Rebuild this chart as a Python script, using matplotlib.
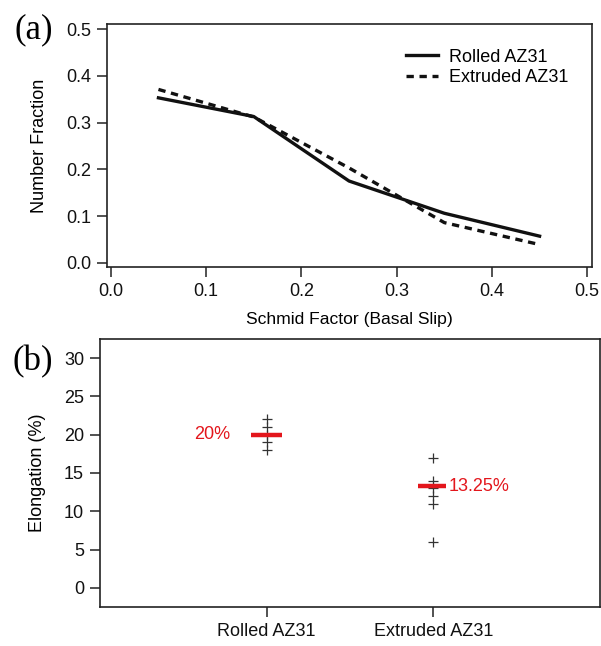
import matplotlib
matplotlib.use("Agg")
import matplotlib.pyplot as plt

plt.rcParams["font.family"] = ["Liberation Sans", "DejaVu Sans"]

# (a) distribution of basal-slip Schmid factors
schmid_bins = [0.05, 0.15, 0.25, 0.35, 0.45]
rolled_frac = [0.353, 0.313, 0.175, 0.106, 0.057]
extruded_frac = [0.371, 0.312, 0.203, 0.086, 0.039]

# (b) elongation of individual specimens
materials = ["Rolled AZ31", "Extruded AZ31"]
rolled_elong = [22, 21, 20, 19, 18]
extruded_elong = [17, 14, 13, 12, 11, 6]
mean_elong = [20, 13.25]
mean_labels = ["20%", "13.25%"]

RED = "#e3161c"
INK = "#111111"
FS = 13

fig = plt.figure(figsize=(6.01, 6.46), dpi=100)
ax1 = fig.add_axes([107 / 601, 1 - 267 / 646, 485 / 601, 243 / 646])
ax2 = fig.add_axes([100 / 601, 1 - 607 / 646, 500 / 601, 268 / 646])

for ax in (ax1, ax2):
    for sp in ax.spines.values():
        sp.set_linewidth(1.2)
        sp.set_color("#222222")
    ax.tick_params(direction="out", length=7.5, width=1.1, pad=4,
                   labelsize=FS, color="#222222", labelcolor=INK)

# --- panel (a)
ax1.plot(schmid_bins, rolled_frac, "-", color=INK, lw=2.4, label="Rolled AZ31")
ax1.plot(schmid_bins, extruded_frac, "--", color=INK, lw=2.4,
         dashes=(2.2, 1.7), label="Extruded AZ31")
ax1.set_xlim(-0.004, 0.505)
ax1.set_ylim(-0.009, 0.511)
ax1.set_xticks([0.0, 0.1, 0.2, 0.3, 0.4, 0.5])
ax1.set_yticks([0.0, 0.1, 0.2, 0.3, 0.4, 0.5])
ax1.xaxis.set_major_formatter(matplotlib.ticker.FormatStrFormatter("%.1f"))
ax1.yaxis.set_major_formatter(matplotlib.ticker.FormatStrFormatter("%.1f"))
ax1.set_xlabel("Schmid Factor (Basal Slip)", fontsize=12.6, labelpad=9)
ax1.set_ylabel("Number Fraction", fontsize=FS, labelpad=13)
ax1.legend(loc="upper right", frameon=False, fontsize=FS, handlelength=1.8,
           handletextpad=0.6, labelspacing=0.2, borderaxespad=0.5,
           bbox_to_anchor=(0.985, 0.965))
fig.text(14 / 601, 1 - 30 / 646, "(a)", family="Liberation Serif",
         fontsize=25, ha="left", va="center")

# --- panel (b)
groups = [rolled_elong, extruded_elong]
for i, vals in enumerate(groups, start=1):
    ax2.plot([i] * len(vals), vals, "+", color="#333333", ms=7, mew=0.9,
             zorder=2)
    ax2.plot([i - 0.093, i + 0.093], [mean_elong[i - 1]] * 2, color=RED,
             lw=3.2, solid_capstyle="butt", zorder=3)

ax2.text(1 - 0.22, mean_elong[0], mean_labels[0], color=RED, fontsize=FS,
         ha="right", va="center", zorder=4)
ax2.text(2 + 0.09, mean_elong[1], mean_labels[1], color=RED, fontsize=FS,
         ha="left", va="center", zorder=4,
         bbox=dict(boxstyle="square,pad=0.15", fc="white", ec="none"))

ax2.set_xlim(0, 3)
ax2.set_ylim(-2.5, 32.5)
ax2.set_xticks([1, 2])
ax2.set_xticklabels(materials)
ax2.set_yticks([0, 5, 10, 15, 20, 25, 30])
ax2.tick_params(axis="x", pad=4)
ax2.set_ylabel("Elongation (%)", fontsize=FS, labelpad=13)
fig.text(12 / 601, 1 - 362 / 646, "(b)", family="Liberation Serif",
         fontsize=25, ha="left", va="center")

fig.savefig("out.png", dpi=100, facecolor="white")
